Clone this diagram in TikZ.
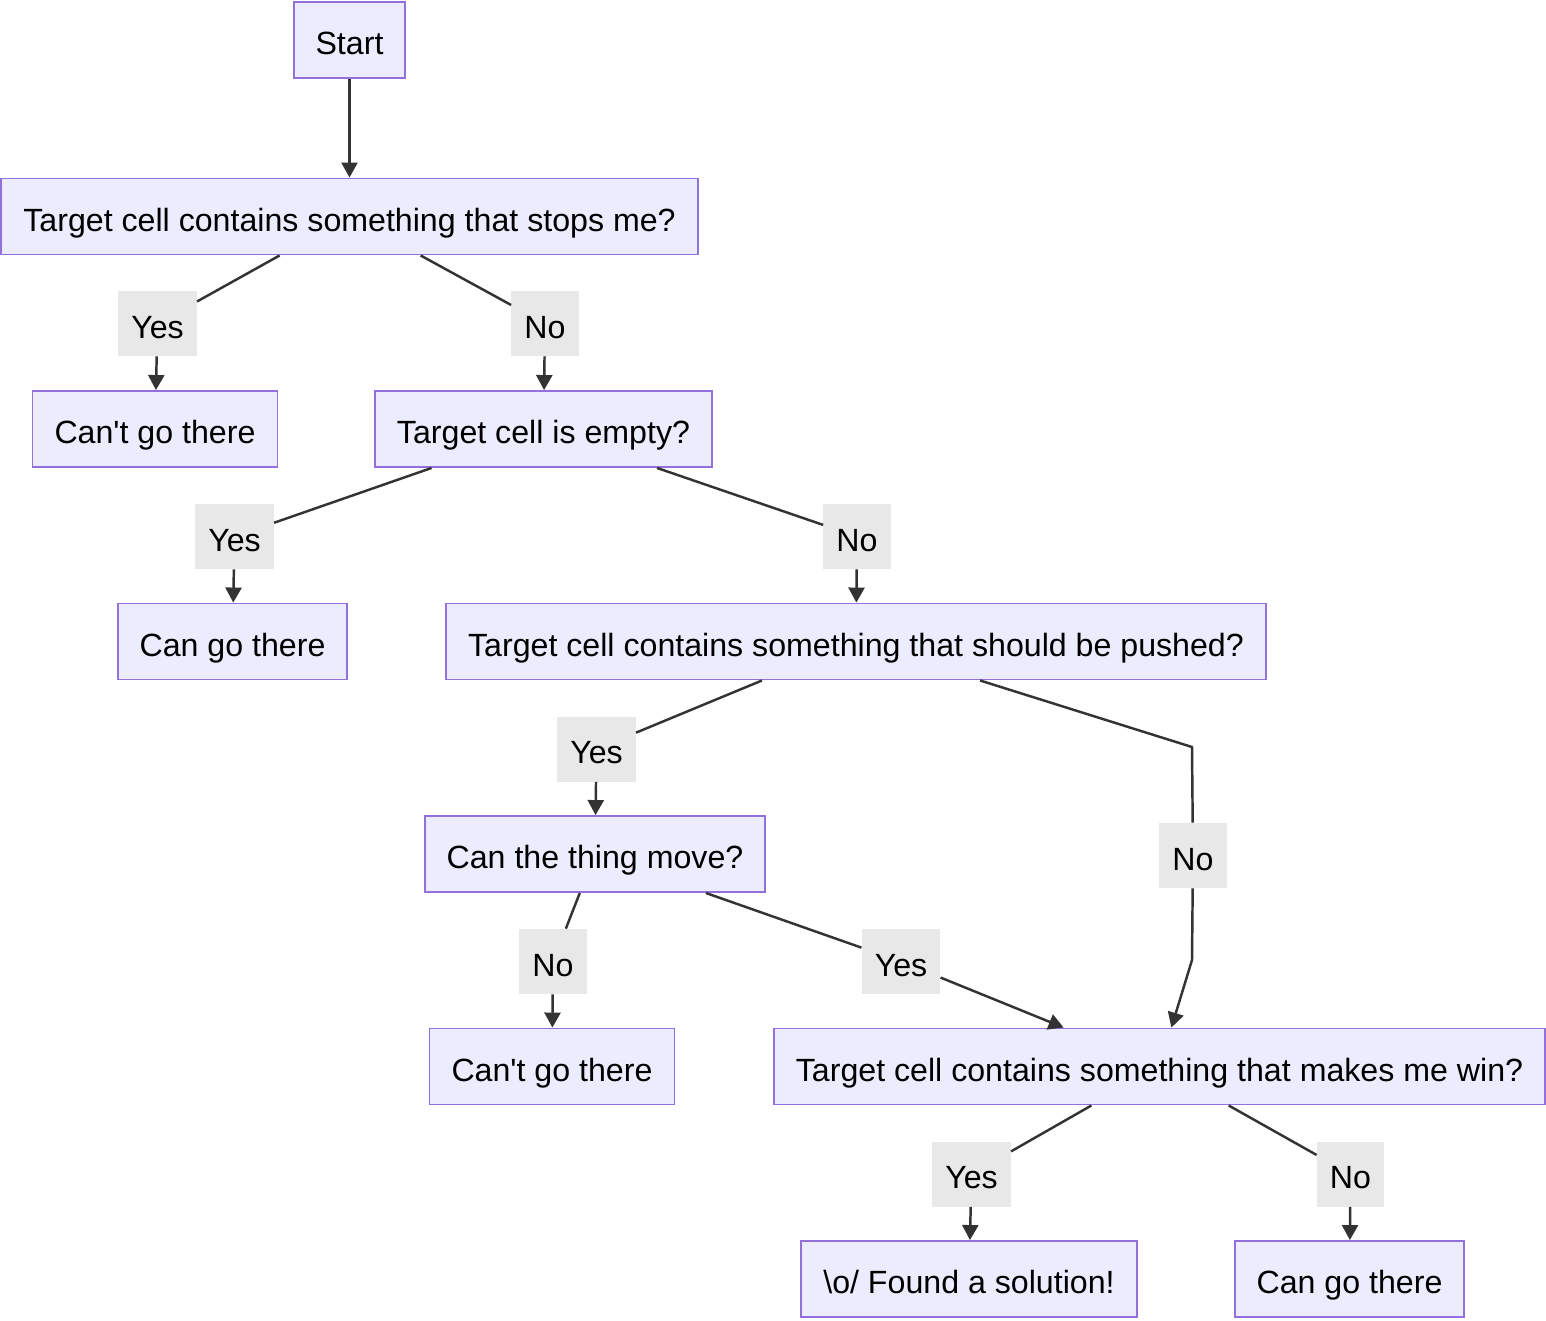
\documentclass[tikz,border=0pt]{standalone}
\usepackage{fontspec}
\setmainfont{Liberation Sans}
\usetikzlibrary{arrows.meta}

\definecolor{boxfill}{HTML}{ECECFF}
\definecolor{boxline}{HTML}{9370DB}
\definecolor{edgecol}{HTML}{333333}
\definecolor{labelfill}{HTML}{E8E8E8}

\tikzset{
	stepbox/.style={draw=boxline, fill=boxfill, line width=1.1pt, inner xsep=0.44cm, inner ysep=0pt, minimum height=1.52cm, text height=0.7cm, text depth=0.12cm},
	answer/.style={fill=labelfill, inner xsep=0.26cm, inner ysep=0pt, minimum height=1.3cm, text height=0.7cm, text depth=0.12cm},
	flow/.style={draw=edgecol, line width=1.4pt},
	arr/.style={flow, -{Triangle[length=0.3cm, width=0.32cm]}},
}

\begin{document}
\begin{tikzpicture}[x=0.02cm,y=-0.02cm,font=\fontsize{18.3}{22}\selectfont,anchor=center]

	\useasboundingbox (0,0) rectangle (1546,1320);

	% boxes
	\node[stepbox] (start)   at (349.5,40)    {Start};
	\node[stepbox] (stops)   at (349.5,216.5) {Target cell contains something that stops me?};
	\node[stepbox] (cantgoA) at (155,429)     {Can\textquotesingle t go there};
	\node[stepbox] (empty)   at (543.5,429)   {Target cell is empty?};
	\node[stepbox] (cangoA)  at (232.5,641.5) {Can go there};
	\node[stepbox] (pushed)  at (856,641.5)   {Target cell contains something that should be pushed?};
	\node[stepbox] (move)    at (595,854)     {Can the thing move?};
	\node[stepbox] (cantgoB) at (552,1066.5)  {Can\textquotesingle t go there};
	\node[stepbox] (win)     at (1159.5,1066.5) {Target cell contains something that makes me win?};
	\node[stepbox] (found)   at (969,1279)    {\textbackslash o/ Found a solution!};
	\node[stepbox] (cangoB)  at (1349.5,1279) {Can go there};

	% answers
	\node[answer] (stopsYes)  at (157.5,323.5) {Yes};
	\node[answer] (stopsNo)   at (545,323.5)   {No};
	\node[answer] (emptyYes)  at (234.5,536.5) {Yes};
	\node[answer] (emptyNo)   at (857,536.5)   {No};
	\node[answer] (pushedYes) at (596.5,749)   {Yes};
	\node[answer] (pushedNo)  at (1193,855.5)  {No};
	\node[answer] (moveNo)    at (553,961.5)   {No};
	\node[answer] (moveYes)   at (901,961.5)   {Yes};
	\node[answer] (winYes)    at (971.5,1174)  {Yes};
	\node[answer] (winNo)     at (1350.5,1174) {No};

	\coordinate (bendA) at (1192,747);
	\coordinate (bendB) at (1192,960);

	% edges
	\draw[arr]  (start) -- (stops);

	\draw[flow] (stops) -- (stopsYes);
	\draw[arr]  (stopsYes) -- (cantgoA);
	\draw[flow] (stops) -- (stopsNo);
	\draw[arr]  (stopsNo) -- (empty);

	\draw[flow] (empty) -- (emptyYes);
	\draw[arr]  (emptyYes) -- (cangoA);
	\draw[flow] (empty) -- (emptyNo);
	\draw[arr]  (emptyNo) -- (pushed);

	\draw[flow] (pushed) -- (pushedYes);
	\draw[arr]  (pushedYes) -- (move);
	\draw[flow] (pushed) -- (bendA) -- (pushedNo);
	\draw[arr]  (pushedNo) -- (bendB) -- (win);

	\draw[flow] (move) -- (moveNo);
	\draw[arr]  (moveNo) -- (cantgoB);
	\draw[flow] (move) -- (moveYes);
	\draw[arr]  (moveYes) -- (win);

	\draw[flow] (win) -- (winYes);
	\draw[arr]  (winYes) -- (found);
	\draw[flow] (win) -- (winNo);
	\draw[arr]  (winNo) -- (cangoB);

\end{tikzpicture}
\end{document}
